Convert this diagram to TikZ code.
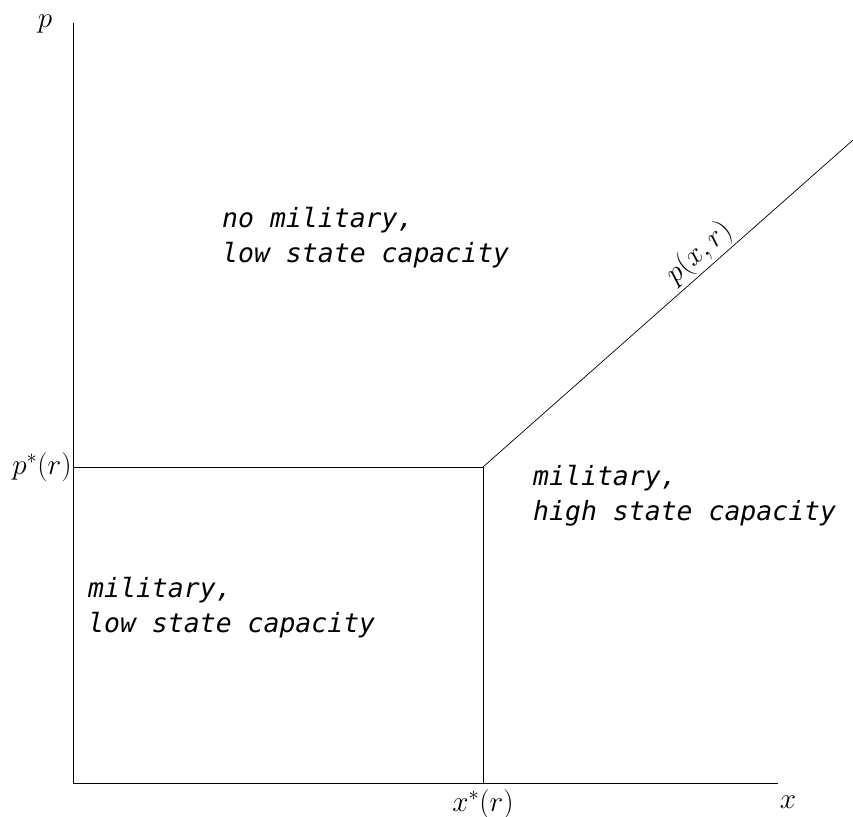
\documentclass[tikz,border=0pt]{standalone}
\usepackage{fontspec}
\usetikzlibrary{positioning}
\newfontfamily\regionfamily{DejaVu Sans Mono}

\tikzset{
    region/.style={font=\fontsize{22.6}{29.5}\regionfamily\itshape, align=left, anchor=base west, inner sep=0pt},
    axislabel/.style={font=\fontsize{23}{26}\selectfont},
    axisline/.style={black, line width=0.6pt}
}

\begin{document}
\begin{tikzpicture}[x=0.03cm, y=-0.03cm]
    \useasboundingbox (0,0) rectangle (853,816);

    % Corner points of the regions
    \coordinate (origin) at (73,783);
    \coordinate (ptop) at (73,23);
    \coordinate (xend) at (778,783);
    \coordinate (pstar) at (73,467);
    \coordinate (kink) at (483,467);
    \coordinate (xstar) at (483,783);
    \coordinate (curveend) at (853,140);

    % Axes
    \draw[axisline] (ptop) -- (origin) -- (xend);

    % Region boundaries
    \draw[axisline] (pstar) -- (kink) -- (xstar);
    \draw[axisline] (kink) -- (curveend)
        node[axislabel, sloped, above, pos=0.615, inner sep=2pt] (curvelabel) {$p(x,r)$};

    % Axis labels
    \node[axislabel] (plabel) at (45,24) {$p$};
    \node[axislabel, left=0pt of pstar, inner sep=1pt] (pstarlabel) {$p^*(r)$};
    \node[axislabel] (xstarlabel) at (483,804) {$x^*(r)$};
    \node[axislabel] (xlabel) at (788,802) {$x$};

    % Region labels (anchored at the baseline of the last line)
    \node[region] (nomil) at (222,262) {no military,\\low state capacity};
    \node[region] (milhigh) at (533,520) {military,\\high state capacity};
    \node[region] (millow) at (88,632) {military,\\low state capacity};
\end{tikzpicture}
\end{document}
